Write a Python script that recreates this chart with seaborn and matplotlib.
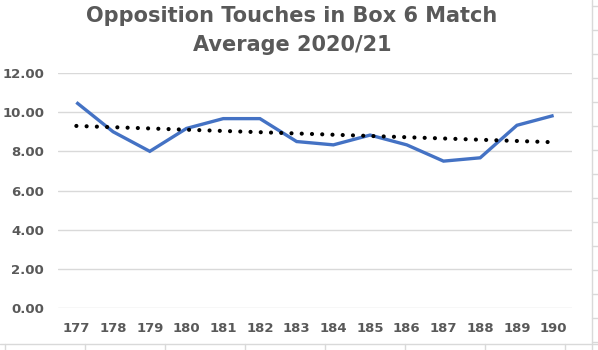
import numpy as np
import pandas as pd
import matplotlib
matplotlib.use("Agg")
import matplotlib.pyplot as plt
from matplotlib.lines import Line2D
import seaborn as sns

# Match numbers and the opposition touches-in-box 6-match average
matches = ["177", "178", "179", "180", "181", "182", "183",
           "184", "185", "186", "187", "188", "189", "190"]
touches_avg = [10.50, 9.00, 8.00, 9.17, 9.67, 9.67, 8.50,
               8.33, 8.83, 8.33, 7.50, 7.67, 9.33, 9.83]
y_ticks = [0, 2, 4, 6, 8, 10, 12]

sns.set_theme(style="white")
plt.rcParams["font.family"] = ["DejaVu Sans"]

df = pd.DataFrame({"idx": np.arange(len(matches)), "match": matches,
                   "avg": touches_avg})

fig = plt.figure(figsize=(5.98, 3.5), dpi=100)
ax = fig.add_axes([58 / 598, 1 - 308 / 350, (572 - 58) / 598, (308 - 73) / 350])

grey = "#595959"
grid_c = "#d9d9d9"

sns.lineplot(data=df, x="idx", y="avg", ax=ax, color="#4472C4", lw=2.4,
             solid_capstyle="butt", solid_joinstyle="miter", zorder=3)

# Linear trendline
sns.regplot(data=df, x="idx", y="avg", ax=ax, scatter=False, ci=None,
            truncate=True,
            line_kws=dict(color="black", lw=3.0, linestyle=(0, (0.01, 2.45)),
                          dash_capstyle="round", zorder=4))

ax.set_xlim(-0.5, len(matches) - 0.5)
ax.set_ylim(0, 12)
ax.set_yticks(y_ticks)
ax.set_yticklabels([f"{v:.2f}" for v in y_ticks])
ax.set_xticks(df["idx"])
ax.set_xticklabels(matches)
ax.set_xlabel("")
ax.set_ylabel("")

for v in y_ticks:
    ax.axhline(v, color=grid_c, lw=1.0, zorder=1)
for s in ax.spines.values():
    s.set_visible(False)

ax.tick_params(axis="both", length=0, labelcolor=grey, labelsize=9.5)
ax.tick_params(axis="y", pad=10)
ax.tick_params(axis="x", pad=10)
for lab in ax.get_xticklabels() + ax.get_yticklabels():
    lab.set_fontweight("bold")

fig.text(292 / 598, 1 - 16 / 350, "Opposition Touches in Box 6 Match",
         ha="center", va="center", fontsize=15, fontweight="bold", color=grey)
fig.text(292 / 598, 1 - 45 / 350, "Average 2020/21",
         ha="center", va="center", fontsize=15, fontweight="bold", color=grey)

# Chart border and surrounding worksheet cell lines
W, H = 598, 350
def fline(xs, ys):
    fig.add_artist(Line2D([x / W for x in xs], [1 - y / H for y in ys],
                          color=grid_c, lw=1.0, transform=fig.transFigure))

fline([592, 592], [0, 350])
fline([0, 598], [344, 344])
for y in range(6, 344, 24):
    fline([592, 598], [y, y])
for x in range(5, 592, 80):
    fline([x, x], [344, 350])

fig.savefig("out.png", dpi=100)
